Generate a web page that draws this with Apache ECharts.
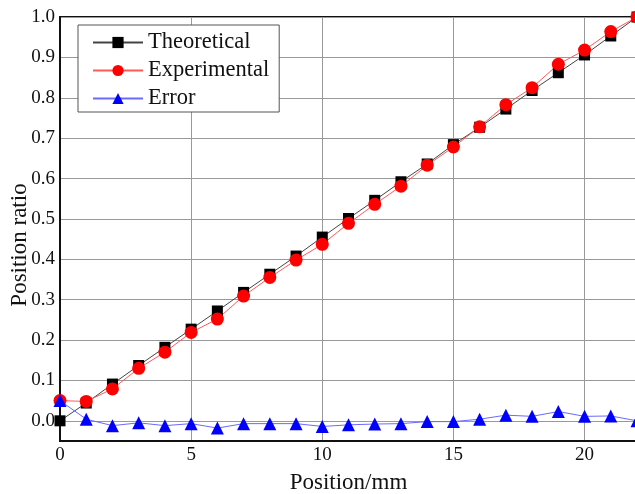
<!DOCTYPE html>
<html>
<head>
<meta charset="utf-8">
<script src="https://cdn.jsdelivr.net/npm/echarts@6/dist/echarts.min.js"></script>
<style>
  html, body { margin: 0; padding: 0; background: #fff; }
  #main { width: 635px; height: 494px; }
</style>
</head>
<body>
<div id="main"></div>
<script>
var positions = [0, 1, 2, 3, 4, 5, 6, 7, 8, 9, 10, 11, 12, 13, 14, 15, 16, 17, 18, 19, 20, 21, 22];
var theoretical = [0.000, 0.044, 0.091, 0.137, 0.182, 0.227, 0.272, 0.318, 0.363, 0.408, 0.455,
  0.501, 0.546, 0.592, 0.636, 0.684, 0.727, 0.772, 0.818, 0.862, 0.906, 0.953, 1.000];
var experimental = [0.050, 0.048, 0.079, 0.130, 0.170, 0.219, 0.252, 0.309, 0.355, 0.398, 0.437,
  0.489, 0.536, 0.581, 0.633, 0.678, 0.728, 0.783, 0.825, 0.883, 0.918, 0.964, 1.000];
var error = [0.050, 0.004, -0.012, -0.005, -0.012, -0.007, -0.018, -0.007, -0.007, -0.007, -0.014,
  -0.010, -0.008, -0.007, -0.002, -0.002, 0.004, 0.014, 0.011, 0.023, 0.011, 0.012, 0.000];
var yTickLabels = ['0.0', '0.1', '0.2', '0.3', '0.4', '0.5', '0.6', '0.7', '0.8', '0.9', '1.0'];

function pairs(ys) {
  return positions.map(function (x, i) { return [x, ys[i]]; });
}

var font = 'Liberation Serif';
var myChart = echarts.init(document.getElementById('main'));
var option = {
  animation: false,
  backgroundColor: '#fff',
  grid: {
    left: 60,
    width: 577,
    top: 17,
    bottom: 53,
    outerBoundsMode: 'none',
    containLabel: false,
    show: true,
    borderColor: '#111',
    borderWidth: 2
  },
  legend: {
    orient: 'vertical',
    left: 78,
    top: 25,
    padding: [6, 10, 2, 14],
    itemWidth: 50,
    itemHeight: 14,
    itemGap: 5,
    backgroundColor: '#fff',
    borderColor: '#555',
    borderWidth: 1,
    textStyle: { fontFamily: font, fontSize: 22.5, lineHeight: 21, color: '#111' },
    data: ['Theoretical', 'Experimental', 'Error']
  },
  xAxis: {
    type: 'value',
    min: 0,
    max: 22,
    interval: 5,
    name: 'Position/mm',
    nameLocation: 'middle',
    nameGap: 30,
    nameMoveOverlap: false,
    nameTextStyle: { fontFamily: font, fontSize: 23, color: '#111' },
    axisLine: { onZero: false, lineStyle: { color: '#111', width: 2 } },
    axisTick: { show: false },
    axisLabel: { fontFamily: font, fontSize: 19, color: '#111', margin: 5, showMaxLabel: false },
    splitLine: { show: true, lineStyle: { color: '#999', width: 1 } }
  },
  yAxis: {
    type: 'value',
    min: -0.05,
    max: 1.0,
    interval: 0.05,
    name: 'Position ratio',
    nameLocation: 'middle',
    nameGap: 29,
    nameMoveOverlap: false,
    nameTextStyle: { fontFamily: font, fontSize: 23, color: '#111', padding: [0, 32, 0, 0] },
    axisLine: { lineStyle: { color: '#111', width: 2 } },
    axisTick: { show: false },
    axisLabel: {
      fontFamily: font, fontSize: 19, color: '#111', margin: 5,
      formatter: function (v) {
        var s = v.toFixed(1);
        if (Math.abs(Math.round(v * 100)) % 10 !== 0) return '';
        return yTickLabels.indexOf(s) >= 0 ? s : '';
      }
    },
    splitLine: { show: true, lineStyle: { color: ['rgba(0,0,0,0)', '#999'], width: 1 } }
  },
  series: [
    {
      name: 'Theoretical',
      type: 'line',
      data: pairs(theoretical),
      symbol: 'rect',
      symbolSize: 11,
      itemStyle: { color: '#000' },
      lineStyle: { color: '#444', width: 1 }
    },
    {
      name: 'Experimental',
      type: 'line',
      data: pairs(experimental),
      symbol: 'circle',
      symbolSize: 13,
      itemStyle: { color: '#ff0000' },
      lineStyle: { color: '#ff5a5a', width: 1 }
    },
    {
      name: 'Error',
      type: 'line',
      data: pairs(error),
      symbol: 'triangle',
      symbolSize: 13,
      itemStyle: { color: '#0000ff' },
      lineStyle: { color: '#6a6aff', width: 1 }
    }
  ]
};
myChart.setOption(option);
</script>
</body>
</html>
